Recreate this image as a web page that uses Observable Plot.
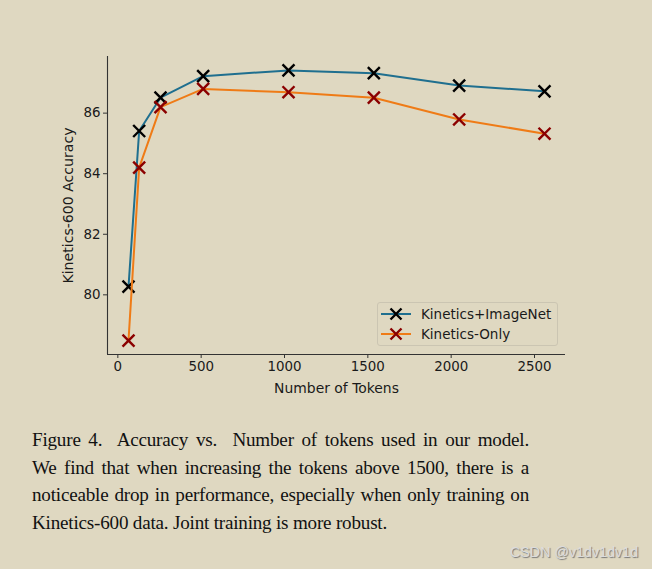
<!DOCTYPE html>
<html>
<head>
<meta charset="utf-8">
<script src="https://cdn.jsdelivr.net/npm/d3@7"></script>
<script src="https://cdn.jsdelivr.net/npm/@observablehq/plot@0.6"></script>
<style>
  html, body { margin: 0; padding: 0; }
  body { width: 652px; height: 569px; background: #dfd8c1; position: relative; overflow: hidden; font-family: "DejaVu Sans", sans-serif; }
  #chart { position: absolute; left: 0; top: 0; }
  #legend { position: absolute; left: 377px; top: 302px; width: 181px; height: 44px; border: 1px solid #cbc5b2; border-radius: 3px; box-sizing: border-box; font-size: 13.5px; color: #1a1a1a; }
  .row { position: absolute; left: 0; height: 20px; }
  .row svg { position: absolute; left: 3px; top: 0; }
  .row span { position: absolute; left: 43px; white-space: nowrap; line-height: 20px; top: 0; }
  #caption { position: absolute; left: 32px; top: 426px; width: 497px; font-family: "Liberation Serif", "Times New Roman", serif; font-size: 19.1px; letter-spacing: -0.2px; line-height: 27.7px; color: #111; }
  #caption div { white-space: nowrap; }
  #caption .just { text-align: justify; text-align-last: justify; }
  #wm { position: absolute; left: 510px; top: 544px; font-family: "Liberation Sans", Arial, sans-serif; font-size: 14.3px; color: #dcdcdc; text-shadow: 1px 1px 1px #777; white-space: nowrap; }
</style>
</head>
<body>
<div id="chart"></div>
<div id="legend"></div>
<div id="caption"></div>
<div id="wm">CSDN @v1dv1dv1d</div>
<script>
const tokens = [64, 128, 256, 512, 1024, 1536, 2048, 2560];
const kineticsImageNet = [80.27, 85.41, 86.51, 87.22, 87.41, 87.32, 86.91, 86.72];
const kineticsOnly = [78.49, 84.2, 86.2, 86.8, 86.69, 86.51, 85.79, 85.32];
const seriesNames = ["Kinetics+ImageNet", "Kinetics-Only"];
const xTicks = [0, 500, 1000, 1500, 2000, 2500];
const yTicks = [80, 82, 84, 86];
const xDomain = [-62, 2686];
const yDomain = [78.03, 87.87];
const xLabel = "Number of Tokens";
const yLabel = "Kinetics-600 Accuracy";
const captionLines = [
  "Figure 4.&nbsp; Accuracy vs.&nbsp; Number of tokens used in our model.",
  "We find that when increasing the tokens above 1500, there is a",
  "noticeable drop in performance, especially when only training on",
  "Kinetics-600 data. Joint training is more robust."
];

const lineColors = ["#1f6f8f", "#ef7b16"];
const markColors = ["#000000", "#8b0000"];

const rowsA = tokens.map((t, i) => ({tokens: t, acc: kineticsImageNet[i]}));
const rowsB = tokens.map((t, i) => ({tokens: t, acc: kineticsOnly[i]}));

const plot = Plot.plot({
  width: 652,
  height: 410,
  marginLeft: 107,
  marginRight: 87,
  marginTop: 56,
  marginBottom: 56,
  style: {background: "transparent", fontFamily: "DejaVu Sans, sans-serif", fontSize: "13px", color: "#1a1a1a", overflow: "visible"},
  x: {domain: xDomain},
  y: {domain: yDomain},
  marks: [
    Plot.ruleX([xDomain[0]], {stroke: "#333", strokeWidth: 1.1}),
    Plot.ruleY([yDomain[0]], {stroke: "#333", strokeWidth: 1.1}),
    Plot.axisX({ticks: xTicks, tickFormat: d => String(d), tickSize: 4, tickPadding: 3, label: null, fontSize: 13.4, stroke: "#333"}),
    Plot.axisY({ticks: yTicks, tickFormat: d => String(d), tickSize: 4, tickPadding: 3, label: null, fontSize: 13.4, stroke: "#333"}),
    Plot.text([xLabel], {frameAnchor: "bottom", dy: 34, lineAnchor: "middle", textAnchor: "middle", text: d => d, fontSize: 13.9}),
    Plot.text([yLabel], {frameAnchor: "left", dx: -39, rotate: -90, lineAnchor: "middle", textAnchor: "middle", text: d => d, fontSize: 14.1}),
    Plot.line(rowsA, {x: "tokens", y: "acc", stroke: lineColors[0], strokeWidth: 2}),
    Plot.dot(rowsA, {x: "tokens", y: "acc", symbol: "times", r: 5.5, stroke: markColors[0], strokeWidth: 2.4}),
    Plot.line(rowsB, {x: "tokens", y: "acc", stroke: lineColors[1], strokeWidth: 2}),
    Plot.dot(rowsB, {x: "tokens", y: "acc", symbol: "times", r: 5.5, stroke: markColors[1], strokeWidth: 2.4})
  ]
});
document.getElementById("chart").appendChild(plot);

// Legend
const legend = document.getElementById("legend");
seriesNames.forEach((name, i) => {
  const row = document.createElement("div");
  row.className = "row";
  row.style.top = (i === 0 ? 1 : 21) + "px";
  row.innerHTML = `<svg width="32" height="20" viewBox="0 0 32 20">
      <line x1="0" y1="10" x2="30" y2="10" stroke="${lineColors[i]}" stroke-width="2"/>
      <path d="M9.5,4.5L20.5,15.5M20.5,4.5L9.5,15.5" stroke="${markColors[i]}" stroke-width="2.4" fill="none"/>
    </svg><span>${name}</span>`;
  legend.appendChild(row);
});

// Caption
const cap = document.getElementById("caption");
cap.innerHTML = captionLines.map((l, i) => i < captionLines.length - 1
  ? `<div class="just">${l}</div>`
  : `<div>${l}</div>`).join("");
</script>
</body>
</html>
